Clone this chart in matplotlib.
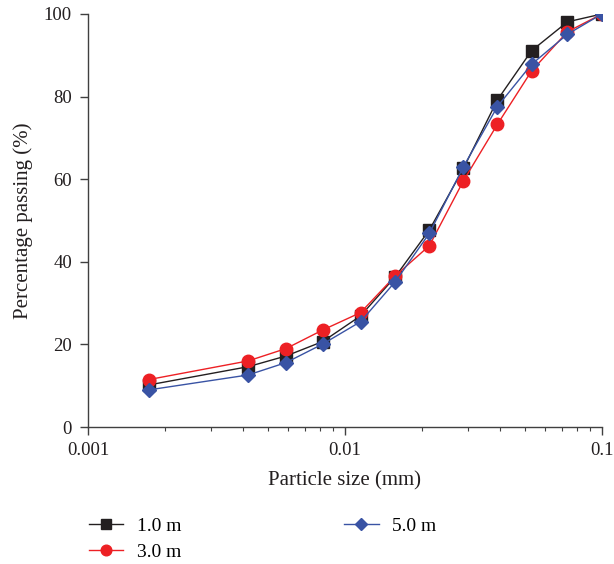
import numpy as np
import matplotlib.pyplot as plt
from matplotlib.ticker import LogLocator, FixedLocator, NullFormatter

plt.rcParams['font.family'] = ['Liberation Serif', 'DejaVu Serif']

# Particle sizes (mm) and percent passing at three depths
size = [0.00173, 0.0042, 0.0059, 0.0082, 0.0115, 0.0157,
        0.0213, 0.0289, 0.0392, 0.0532, 0.0734, 0.1]
pass_1m = [10.2, 14.6, 17.2, 20.7, 26.9, 36.4, 47.7, 62.6, 79.2, 91.1, 98.1, 100.0]
pass_3m = [11.5, 16.0, 19.0, 23.5, 27.7, 36.6, 43.9, 59.6, 73.3, 86.2, 95.7, 100.0]
pass_5m = [9.0, 12.6, 15.6, 20.1, 25.5, 35.2, 46.9, 63.0, 77.6, 87.8, 95.1, 100.0]
labels = ['1.0 m', '3.0 m', '5.0 m']

fig = plt.figure(figsize=(6.14, 5.64), dpi=100)
ax = fig.add_axes([0.1433, 0.2429, 0.8371, 0.7323])

ax.plot(size, pass_1m, '-s', color='#231f20', lw=1, ms=8, label=labels[0])
ax.plot(size, pass_3m, '-o', color='#ed2024', lw=1, ms=9, label=labels[1])
ax.plot(size, pass_5m, '-D', color='#3953a4', lw=1, ms=7.2, label=labels[2])

ax.set_xscale('log')
ax.set_xlim(0.001, 0.1)
ax.set_ylim(0, 100)
ax.xaxis.set_major_locator(FixedLocator([0.001, 0.01, 0.1]))
ax.set_xticklabels(['0.001', '0.01', '0.1'])
ax.xaxis.set_minor_locator(LogLocator(base=10, subs=np.arange(2, 10)))
ax.xaxis.set_minor_formatter(NullFormatter())
ax.set_yticks([0, 20, 40, 60, 80, 100])

for s in ['top', 'right']:
    ax.spines[s].set_visible(False)
for s in ['left', 'bottom']:
    ax.spines[s].set_color('#404040')
    ax.spines[s].set_linewidth(1)
ax.tick_params(which='major', direction='out', length=5.5, width=1, colors='#404040',
               labelsize=13.5, labelcolor='#231f20')
ax.tick_params(axis='x', which='major', pad=5)
ax.tick_params(axis='y', which='major', pad=6)
ax.tick_params(which='minor', direction='out', length=2.7, width=0.8, colors='#404040')

ax.set_xlabel('Particle size (mm)', fontsize=15, color='#231f20', labelpad=9)
ax.set_ylabel('Percentage passing (%)', fontsize=15, color='#231f20', labelpad=8)

ax.legend(loc='upper left', bbox_to_anchor=(89 / 614, 47 / 564), bbox_transform=fig.transFigure,
          ncol=2, frameon=False, fontsize=14, handlelength=1.75, columnspacing=8.4,
          labelspacing=0.45, handletextpad=0.7, borderpad=0, borderaxespad=0,
          markerscale=0.85)

fig.savefig('out.png', dpi=100)
